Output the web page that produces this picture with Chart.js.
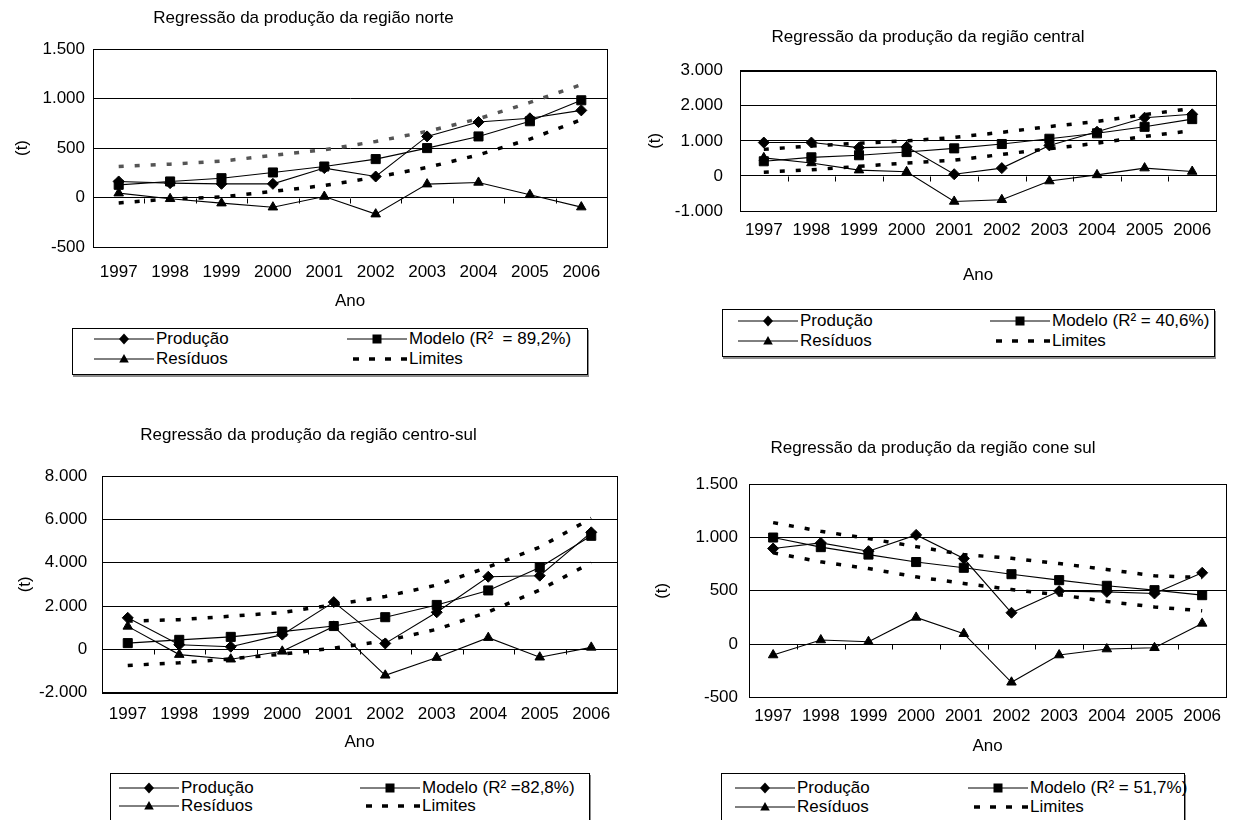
<!DOCTYPE html>
<html>
<head>
<meta charset="utf-8">
<script src="https://cdn.jsdelivr.net/npm/chart.js@4.4.1/dist/chart.umd.min.js"></script>
<style>
  html, body { margin: 0; padding: 0; background: #fff; width: 1234px; height: 820px; overflow: hidden; }
  body { position: relative; font-family: "Liberation Sans", Arial, sans-serif; color: #000; }
  canvas { position: absolute; }
  .legend { position: absolute; box-sizing: border-box; border: 1px solid #000; box-shadow: 1px 2px 0 #8c8c8c; background: #fff; font-size: 17px; }
  .item { position: absolute; display: flex; align-items: center; height: 20px; line-height: 20px; white-space: pre; transform: translateY(-50%); }
  .item svg { display: block; margin-right: 2px; }
</style>
</head>
<body>
<canvas id="norte" width="640" height="316" style="left:0;top:0"></canvas>
<canvas id="central" width="656" height="290" style="left:640px;top:0"></canvas>
<canvas id="centroSul" width="656" height="360" style="left:0;top:400px"></canvas>
<canvas id="coneSul" width="648" height="360" style="left:640px;top:400px"></canvas>

<script>
// Anos
const anos = ['1997', '1998', '1999', '2000', '2001', '2002', '2003', '2004', '2005', '2006'];

// Região norte
const norteProducao = [162, 145, 138, 138, 297, 212, 617, 762, 800, 880];
const norteModelo   = [128, 162, 195, 253, 313, 388, 499, 617, 770, 982];
const norteResiduos = [44, -13, -57, -98, 10, -168, 135, 152, 27, -97];
const norteLimSup   = [313, 337, 367, 425, 482, 566, 667, 795, 960, 1140];
const norteLimInf   = [-55, -15, 5, 61, 121, 205, 303, 431, 590, 785];
const norteEixoY    = [-500, 1500, 500];

// Região central
const centralProducao = [952, 952, 806, 830, 49, 223, 870, 1260, 1660, 1757];
const centralModelo   = [418, 530, 590, 680, 786, 910, 1060, 1215, 1400, 1620];
const centralResiduos = [515, 369, 165, 117, -728, -680, -146, 29, 223, 126];
const centralLimSup   = [757, 854, 932, 1000, 1097, 1243, 1408, 1553, 1748, 1923];
const centralLimInf   = [107, 175, 272, 369, 447, 612, 777, 932, 1126, 1291];
const centralEixoY    = [-1000, 3000, 1000];

// Região centro-sul
const csProducao = [1455, 212, 121, 680, 2180, 273, 1712, 3350, 3400, 5400];
const csModelo   = [288, 439, 576, 818, 1076, 1485, 2050, 2720, 3780, 5240];
const csResiduos = [1060, -242, -455, -91, 1060, -1197, -380, 540, -364, 91];
const csLimSup   = [1303, 1370, 1530, 1700, 2060, 2440, 2970, 3800, 4712, 6050];
const csLimInf   = [-742, -621, -439, -220, 60, 394, 924, 1727, 2742, 4000];
const csEixoY    = [-2000, 8000, 2000];

// Região cone sul
const coneProducao = [897, 950, 872, 1025, 803, 294, 497, 490, 475, 669];
const coneModelo   = [1000, 910, 840, 770, 716, 656, 600, 547, 506, 459];
const coneResiduos = [-103, 38, 22, 250, 97, -359, -103, -47, -35, 194];
const coneLimSup   = [1140, 1059, 990, 915, 840, 805, 756, 700, 641, 625];
const coneLimInf   = [856, 772, 709, 631, 569, 512, 462, 400, 348, 312];
const coneEixoY    = [-500, 1500, 500];

const FONT = '"Liberation Sans", Arial, sans-serif';

function fmt(v) {
  return (v < 0 ? '-' : '') + String(Math.abs(v)).replace(/\B(?=(\d{3})+(?!\d))/g, '.');
}

// moldura da área de plotagem + marcas do eixo X na linha do zero
const excelFrame = {
  id: 'excelFrame',
  beforeDatasetsDraw(chart) {
    const { ctx, chartArea: a, scales: { x, y } } = chart;
    ctx.save();
    ctx.strokeStyle = '#000';
    ctx.lineWidth = 1;
    ctx.strokeRect(Math.round(a.left) + 0.5, Math.round(a.top) + 0.5, Math.round(a.width), Math.round(a.height));
    const y0 = Math.round(y.getPixelForValue(0)) + 0.5;
    ctx.beginPath();
    for (let i = 1; i < anos.length; i++) {
      const px = Math.round((x.getPixelForValue(i - 1) + x.getPixelForValue(i)) / 2) + 0.5;
      ctx.moveTo(px, y0);
      ctx.lineTo(px, y0 + 5);
    }
    ctx.stroke();
    ctx.restore();
  }
};

function makeChart(id, titulo, modeloLabel, series, eixo, lay) {
  const [prod, modelo, resid, sup, inf] = series;
  const solid = { borderColor: '#000', backgroundColor: '#000', borderWidth: 1.1, pointBorderWidth: 1, tension: 0 };
  const dash = { borderWidth: 3.5, borderDash: [5, 11], borderCapStyle: 'butt', pointRadius: 0, tension: 0 };
  const datasets = [
    { label: 'Produção', data: prod, pointStyle: 'rectRot', pointRadius: 5.5, ...solid },
    { label: modeloLabel, data: modelo, pointStyle: 'rect', pointRadius: 6.4, ...solid },
    { label: 'Resíduos', data: resid, pointStyle: 'triangle', pointRadius: 5.5, ...solid },
    { label: 'Limites', data: sup, borderColor: lay.supColor || '#000', ...dash },
    { label: 'Limites', data: inf, borderColor: '#000', ...dash }
  ];
  const chart = new Chart(document.getElementById(id), {
    type: 'line',
    data: { labels: anos, datasets },
    options: {
      responsive: false,
      animation: false,
      events: [],
      layout: { padding: { left: 0, right: lay.padRight, top: 0, bottom: 0 } },
      plugins: {
        legend: { display: false },
        tooltip: { enabled: false },
        title: {
          display: true, text: titulo, color: '#000',
          font: { family: FONT, size: 17, weight: 'normal' },
          padding: { top: lay.titleTop, bottom: lay.titleBottom }
        }
      },
      scales: {
        x: {
          offset: true,
          grid: { display: false },
          border: { display: false },
          ticks: { color: '#000', font: { family: FONT, size: 17 }, padding: lay.xTickPad, autoSkip: false, maxRotation: 0 },
          title: { display: true, text: 'Ano', color: '#000', font: { family: FONT, size: 17 }, padding: { top: 0, bottom: lay.xTitlePad } },
          afterFit(s) { s.height = lay.xH; }
        },
        y: {
          min: eixo[0], max: eixo[1],
          grid: { color: '#000', lineWidth: 1, drawTicks: false },
          border: { display: true, color: '#000', width: 1 },
          ticks: { stepSize: eixo[2], color: '#000', font: { family: FONT, size: 17 }, padding: lay.yTickPad, callback: v => fmt(v) },
          title: { display: true, text: '(t)', color: '#000', font: { family: FONT, size: 17 }, padding: { top: lay.yTitlePad, bottom: 0 } },
          afterFit(s) { s.width = lay.yW; }
        }
      }
    },
    plugins: [excelFrame]
  });
  buildLegend(chart, lay.legend);
}

// legenda em duas colunas, no estilo do Excel
function icon(ds) {
  const w = 60, h = 14, c = 7;
  let shape = '';
  if (ds.pointRadius === 0) {
    return `<svg width="${w}" height="${h}"><line x1="6" y1="${c}" x2="${w}" y2="${c}" stroke="#000" stroke-width="3.5" stroke-dasharray="6 10"/></svg>`;
  }
  if (ds.pointStyle === 'rectRot') shape = `<polygon points="${w/2-5},${c} ${w/2},${c-5.5} ${w/2+5},${c} ${w/2},${c+5.5}" fill="#000"/>`;
  if (ds.pointStyle === 'rect') shape = `<rect x="${w/2-4.5}" y="${c-4.5}" width="9" height="9" fill="#000"/>`;
  if (ds.pointStyle === 'triangle') shape = `<polygon points="${w/2-4.8},${c+3.6} ${w/2},${c-5} ${w/2+4.8},${c+3.6}" fill="#000"/>`;
  return `<svg width="${w}" height="${h}"><line x1="0" y1="${c}" x2="${w}" y2="${c}" stroke="#000" stroke-width="1"/>${shape}</svg>`;
}

function buildLegend(chart, L) {
  const box = document.createElement('div');
  box.className = 'legend';
  Object.assign(box.style, { left: L.left + 'px', top: L.top + 'px', width: L.width + 'px', height: L.height + 'px' });
  const seen = new Set();
  const items = chart.data.datasets.filter(ds => !seen.has(ds.label) && seen.add(ds.label));
  items.forEach((ds, i) => {
    const el = document.createElement('div');
    el.className = 'item';
    el.style.left = (i % 2 === 0 ? L.col1 : L.col2) + 'px';
    el.style.top = (i < 2 ? L.row1 : L.row2) + 'px';
    el.innerHTML = icon(ds) + '<span></span>';
    el.querySelector('span').textContent = ds.label;
    box.appendChild(el);
  });
  document.body.appendChild(box);
}

makeChart('norte', 'Regressão da produção da região norte', 'Modelo (R²  = 89,2%)',
  [norteProducao, norteModelo, norteResiduos, norteLimSup, norteLimInf], norteEixoY,
  { padRight: 33, yW: 93, xH: 69, titleTop: 7.8, titleBottom: 20.8, xTickPad: 7, xTitlePad: 4.8, yTickPad: 8, yTitlePad: 11.8, supColor: '#555',
    legend: { left: 72, top: 328, width: 516, height: 47, col1: 21, col2: 274, row1: 10, row2: 30 } });

makeChart('central', 'Regressão da produção da região central', 'Modelo (R² = 40,6%)',
  [centralProducao, centralModelo, centralResiduos, centralLimSup, centralLimInf], centralEixoY,
  { padRight: 80, yW: 100, xH: 79, titleTop: 26.8, titleBottom: 23.5, xTickPad: 1.5, xTitlePad: 4.8, yTickPad: 17, yTitlePad: 4.8,
    legend: { left: 722, top: 309, width: 493, height: 48, col1: 15, col2: 267, row1: 11, row2: 31 } });

makeChart('centroSul', 'Regressão da produção da região centro-sul', 'Modelo (R² =82,8%)',
  [csProducao, csModelo, csResiduos, csLimSup, csLimInf], csEixoY,
  { padRight: 39, yW: 102, xH: 67.3, titleTop: 24.8, titleBottom: 30.8, xTickPad: 3.1, xTitlePad: 7.8, yTickPad: 14.7, yTitlePad: 14.8,
    legend: { left: 110, top: 773, width: 480, height: 52, col1: 8, col2: 249, row1: 14, row2: 32 } });

makeChart('coneSul', 'Regressão da produção da região cone sul', 'Modelo (R² = 51,7%)',
  [coneProducao, coneModelo, coneResiduos, coneLimSup, coneLimInf], coneEixoY,
  { padRight: 62, yW: 109.3, xH: 62.7, titleTop: 37.8, titleBottom: 26.1, xTickPad: 1, xTitlePad: 3.8, yTickPad: 11.3, yTitlePad: 11.8,
    legend: { left: 721, top: 773, width: 464, height: 52, col1: 13, col2: 246, row1: 14, row2: 33 } });
</script>
</body>
</html>
